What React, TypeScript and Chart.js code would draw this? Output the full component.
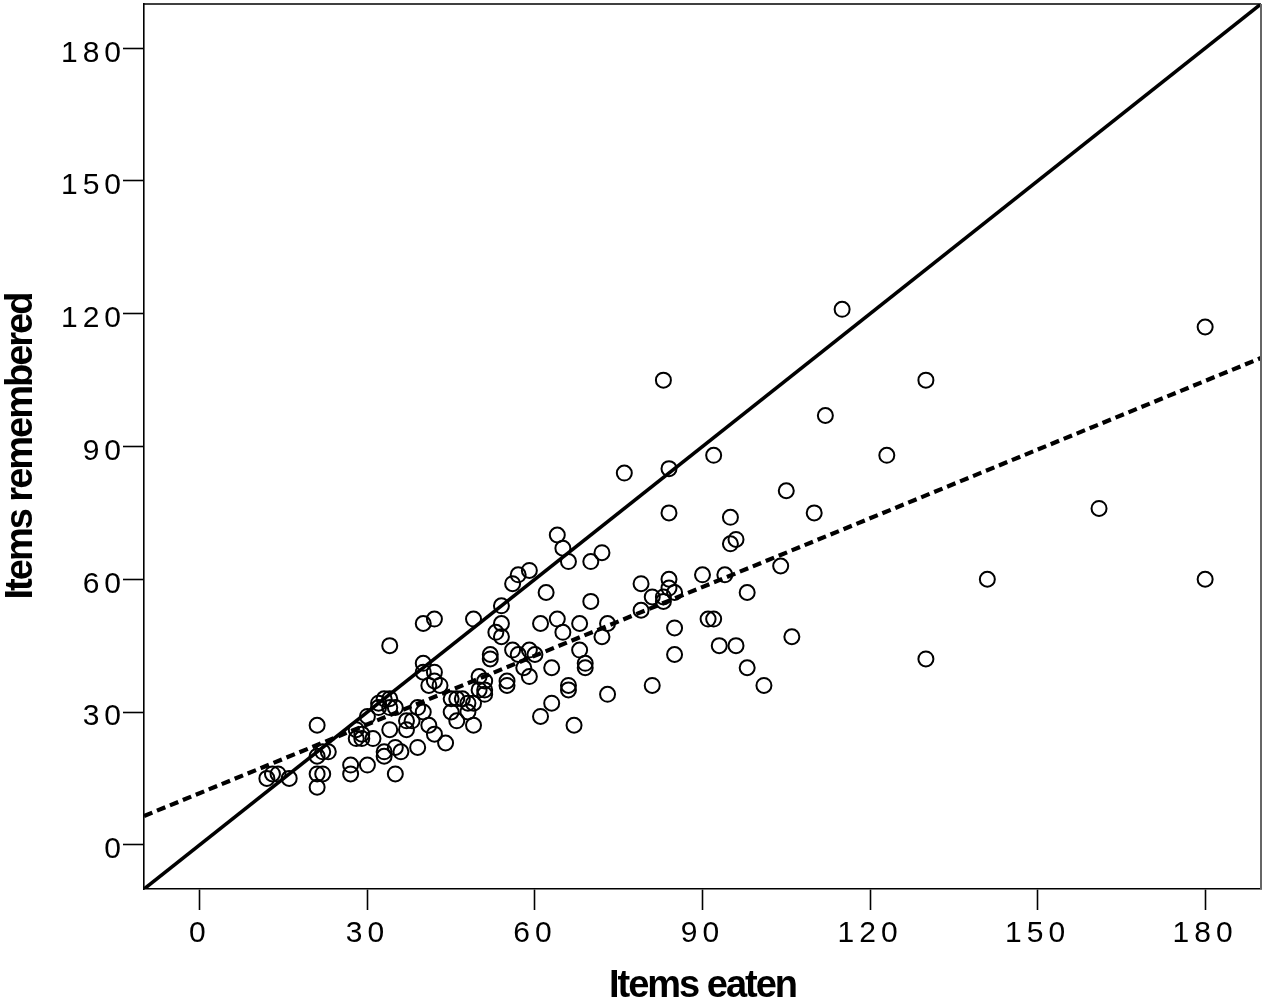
import { useEffect, useRef } from "react"
import { Chart, registerables } from "chart.js"

Chart.register(...registerables)

// values
const itemsEaten = [
  12, 13, 14, 16, 21, 21, 22, 21, 22, 23, 21, 27, 27, 30, 35, 28, 29, 28, 29, 31,
  30, 32, 33, 34, 34, 32, 35, 33, 33, 35, 36, 34, 37, 38, 37, 39, 40, 41, 42, 39,
  44, 34, 40, 42, 40, 40, 42, 42, 41, 43, 45, 45, 46, 47, 48, 49, 48, 46, 49, 49,
  50, 51, 50, 51, 51, 52, 52, 53, 54, 54, 54, 55, 55, 56, 57, 59, 60, 58, 59, 63,
  56, 57, 59, 62, 61, 64, 65, 68, 68, 69, 69, 66, 66, 73, 63, 61, 67, 64, 65, 66,
  70, 72, 70, 73, 72, 76, 79, 79, 81, 81, 83, 83, 83, 84, 84, 85, 84, 84, 85, 85,
  90, 91, 92, 92, 93, 94, 95, 95, 96, 96, 98, 98, 101, 104, 105, 106, 110, 112, 115, 123,
  130, 130, 141, 161, 180, 180,
]
const itemsRemembered = [
  15, 16, 16, 15, 13, 16, 16, 20, 21, 21, 27, 16, 18, 18, 16, 26, 25, 24, 24, 24,
  29, 32, 33, 33, 31, 31, 31, 21, 20, 22, 21, 26, 28, 28, 26, 31, 30, 27, 25, 22,
  23, 45, 50, 51, 41, 39, 39, 37, 36, 36, 30, 33, 33, 33, 32, 32, 30, 28, 27, 51,
  38, 37, 35, 35, 34, 43, 42, 48, 47, 50, 54, 37, 36, 44, 43, 44, 43, 40, 38, 40,
  59, 61, 62, 57, 50, 51, 48, 50, 44, 41, 40, 36, 35, 34, 32, 29, 27, 70, 67, 64,
  64, 66, 55, 50, 47, 84, 59, 53, 56, 36, 105, 55, 56, 60, 58, 57, 85, 75, 49, 43,
  61, 51, 51, 88, 45, 61, 74, 68, 69, 45, 57, 40, 36, 63, 80, 47, 75, 97, 121, 88,
  105, 42, 60, 76, 117, 60,
]

const tickValues = [0, 30, 60, 90, 120, 150, 180]

// reference line y = x and the fitted line, end points at the plot edges
const identityX = [-10, 190]
const identityY = [-10, 190]
const fitX = [-10, 190]
const fitY = [6.5, 110]

const spacingPlugin = {
  id: "spacing",
  beforeDraw(chart: any) {
    Object.values(chart.scales).forEach((scale: any) => {
      if (scale._spaced) return
      scale._spaced = true
      const drawLabels = scale.drawLabels.bind(scale)
      const drawTitle = scale.drawTitle.bind(scale)
      scale.drawLabels = (area: any) => {
        chart.ctx.save()
        chart.ctx.letterSpacing = "5px"
        drawLabels(area)
        chart.ctx.restore()
      }
      scale.drawTitle = () => {
        chart.ctx.save()
        chart.ctx.letterSpacing = "-2px"
        drawTitle()
        chart.ctx.restore()
      }
    })
  },
}

const framePlugin = {
  id: "frame",
  afterDraw(chart: any) {
    const { ctx, chartArea } = chart
    ctx.save()
    ctx.lineWidth = 1.5
    ctx.strokeStyle = "#000"
    ctx.beginPath()
    ctx.moveTo(chartArea.left, chartArea.top)
    ctx.lineTo(chartArea.right, chartArea.top)
    ctx.stroke()
    ctx.strokeStyle = "#666"
    ctx.lineWidth = 2
    ctx.beginPath()
    ctx.moveTo(chartArea.right, chartArea.top)
    ctx.lineTo(chartArea.right, chartArea.bottom)
    ctx.stroke()
    ctx.restore()
  },
}

const tickFont = { family: "'Liberation Sans', Arial, sans-serif", size: 30 }
const titleFont = {
  family: "'Liberation Sans', Arial, sans-serif",
  size: 38,
  weight: "bold" as const,
  lineHeight: 1,
}

function noOverhang(s: any) {
  s.paddingTop = 0
  s.paddingBottom = 0
  s.paddingLeft = 0
  s.paddingRight = 0
}

function axis(extra: any) {
  return {
    type: "linear" as const,
    min: -10,
    max: 190,
    afterBuildTicks: (s: any) => {
      s.ticks = tickValues.map((v) => ({ value: v }))
    },
    grid: {
      display: true,
      drawOnChartArea: false,
      drawTicks: true,
      tickLength: 21,
      tickWidth: 1.6,
      tickColor: "#000",
    },
    border: { display: true, color: "#000", width: 1.6 },
    ...extra,
  }
}

export default function App() {
  const chartRef = useRef<HTMLCanvasElement>(null)
  const chartInstance = useRef<Chart | null>(null)

  useEffect(() => {
    if (!chartRef.current) return
    if (chartInstance.current) chartInstance.current.destroy()

    const ctx = chartRef.current.getContext("2d")
    if (!ctx) return

    chartInstance.current = new Chart(ctx, {
      type: "scatter",
      data: {
        datasets: [
          {
            label: "Items",
            data: itemsEaten.map((x, i) => ({ x, y: itemsRemembered[i] })),
            pointRadius: 7.5,
            pointBorderWidth: 2,
            pointBorderColor: "#000",
            pointBackgroundColor: "rgba(0,0,0,0)",
            showLine: false,
          },
          {
            label: "Identity",
            data: identityX.map((x, i) => ({ x, y: identityY[i] })),
            showLine: true,
            borderColor: "#000",
            borderWidth: 3.6,
            pointRadius: 0,
          },
          {
            label: "Fit",
            data: fitX.map((x, i) => ({ x, y: fitY[i] })),
            showLine: true,
            borderColor: "#000",
            borderWidth: 4.2,
            borderDash: [9, 5],
            pointRadius: 0,
          },
        ],
      },
      options: {
        responsive: false,
        animation: false,
        layout: { autoPadding: false, padding: { left: 0, top: 4, right: 6, bottom: 0 } },
        plugins: {
          legend: { display: false },
          tooltip: { enabled: false },
        },
        scales: {
          x: axis({
            position: "bottom",
            afterFit: (s: any) => {
              s.height = 117
              noOverhang(s)
            },
            ticks: {
              color: "#000",
              font: tickFont,
              padding: 6,
              maxRotation: 0,
              autoSkip: false,
            },
            title: {
              display: true,
              text: "Items eaten",
              color: "#000",
              font: titleFont,
              padding: { top: 0, bottom: 0 },
            },
          }),
          y: axis({
            position: "left",
            afterFit: (s: any) => {
              s.width = 144
              noOverhang(s)
            },
            ticks: {
              color: "#000",
              font: tickFont,
              padding: -3,
              labelOffset: 5,
              autoSkip: false,
            },
            title: {
              display: true,
              text: "Items remembered",
              color: "#000",
              font: titleFont,
              padding: { top: 3, bottom: 0 },
            },
          }),
        },
      },
      plugins: [spacingPlugin, framePlugin],
    })

    return () => {
      if (chartInstance.current) {
        chartInstance.current.destroy()
        chartInstance.current = null
      }
    }
  }, [])

  return (
    <div style={{ position: "absolute", left: 0, top: 0, width: 1267, height: 1006, background: "#fff" }}>
      <canvas ref={chartRef} width={1267} height={1006}></canvas>
    </div>
  )
}
